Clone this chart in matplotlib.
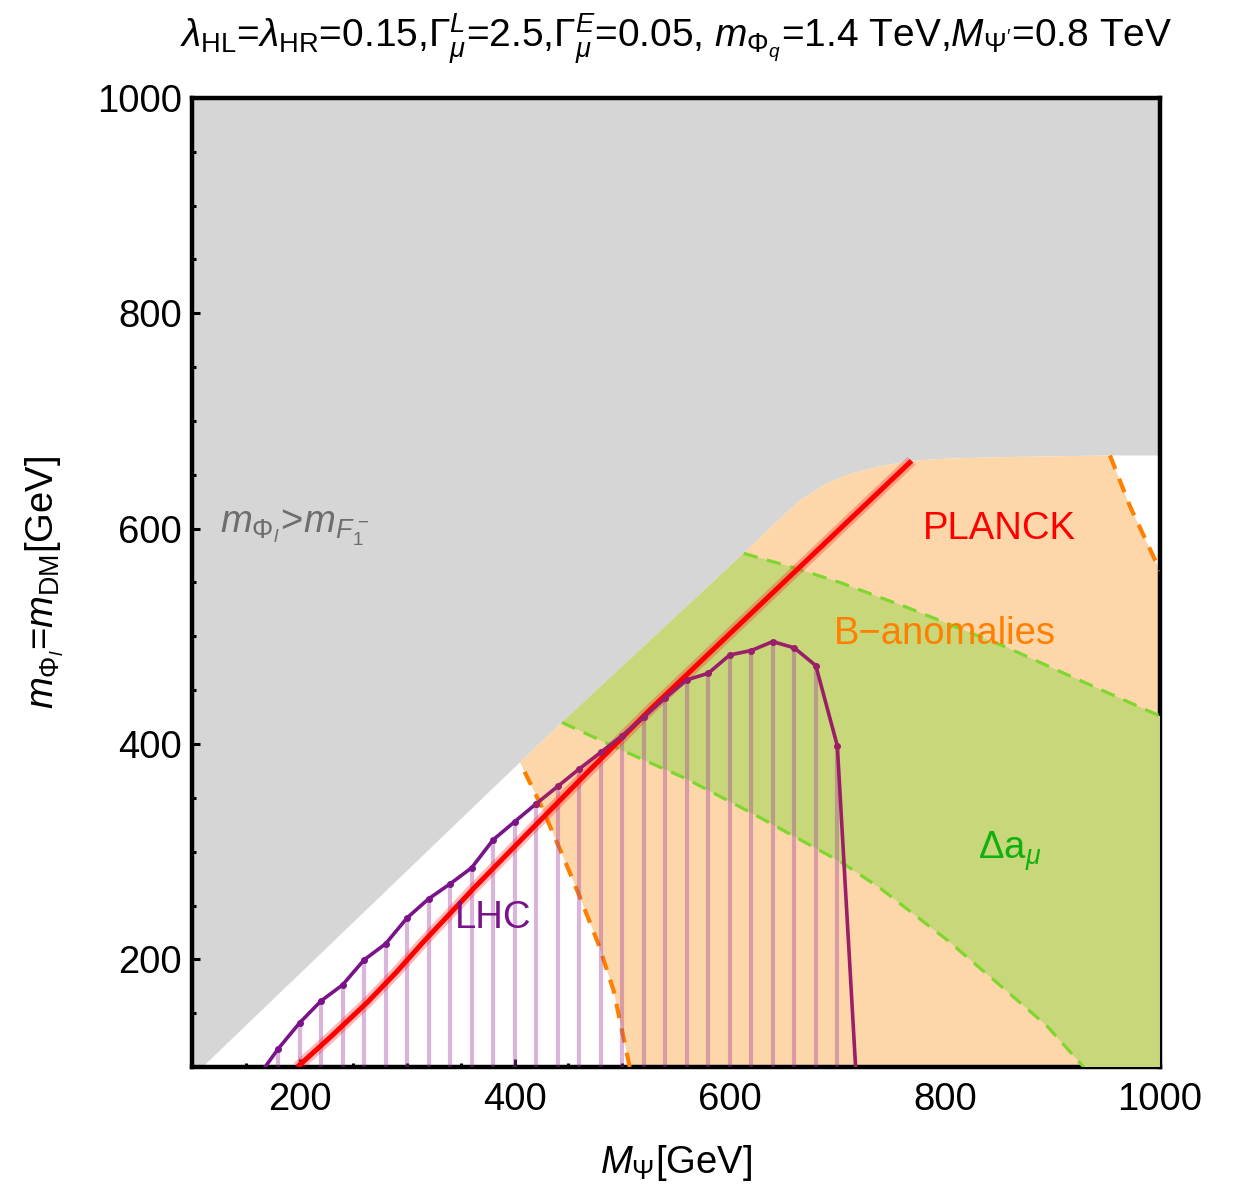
import matplotlib
matplotlib.use("Agg")

import numpy as np
import matplotlib.pyplot as plt
from matplotlib.ticker import MultipleLocator

plt.rcParams["font.family"] = ["Liberation Sans", "DejaVu Sans"]
plt.rcParams["mathtext.fontset"] = "custom"
plt.rcParams["mathtext.rm"] = "Liberation Sans"
plt.rcParams["mathtext.it"] = "Liberation Sans:italic"
plt.rcParams["mathtext.bf"] = "Liberation Sans:bold"

# boundary of the excluded region m_Phi_l > m_F1 (gray above it)
bound_x = [110, 405, 444, 613, 640, 665, 690, 712, 740, 769, 800, 857, 953.5, 1000]
bound_y = [100, 383, 420, 577, 603, 626, 642, 651, 658, 663, 665, 666.5, 668, 668]

# B-anomalies region: orange dashed edges
bleft_x = [507, 492, 478, 461, 444, 424, 405]
bleft_y = [100, 171, 214, 257, 298, 344, 383]
bright_x = [953.5, 972, 1000]
bright_y = [668, 621, 561]

# Delta a_mu band: green dashed edges
amu_low_x = [444, 498, 560, 622, 704, 740, 802, 857, 895, 929]
amu_low_y = [420, 395, 367.5, 335, 290, 266, 218, 171, 138, 100]
amu_up_x = [613, 659, 702.5, 764.5, 857, 919, 1000]
amu_up_y = [577, 564, 550, 527, 490, 462, 426]

# PLANCK relic density line
planck_x = [198, 230, 263, 290, 315, 362, 408, 470, 526, 650, 769]
planck_y = [100, 129, 160, 188, 216, 266, 313, 376, 432, 550, 663]

# LHC exclusion curve
lhc_x = [168, 180, 200, 220, 240, 260, 280, 300, 320, 340, 360, 380, 400, 420,
         440, 460, 480, 500, 520, 540, 560, 580, 600, 620, 640, 660, 680, 700, 717]
lhc_y = [100, 116.7, 140.9, 161.4, 176.2, 199.5, 214.4, 238.5, 256.2, 270.1, 285,
         311, 327.8, 344.5, 360.6, 376.8, 392.2, 407.7, 424.8, 442.8, 459.5, 465.7,
         482.7, 486.8, 495.1, 489.3, 472.8, 398.4, 100]

fig = plt.figure(figsize=(12.36, 11.89), dpi=100)
ax = fig.add_axes([0.1553, 0.1026, 0.7832, 0.815])
ax.set_xlim(100, 1000)
ax.set_ylim(100, 1000)

# gray excluded region
gx = [100] + bound_x + [1000, 100]
gy = [100] + bound_y + [1000, 1000]
ax.fill(gx, gy, color="#d6d6d6", lw=0, zorder=1)

# orange region
ox = bleft_x + bound_x[2:13] + bright_x[1:] + [1000]
oy = bleft_y + bound_y[2:13] + bright_y[1:] + [100]
ax.fill(ox, oy, color="#fdd6aa", lw=0, zorder=2)

# green band
grx = amu_low_x + [1000] + amu_up_x[::-1]
gry = amu_low_y + [100] + amu_up_y[::-1]
ax.fill(grx, gry, color="#c7d77a", lw=0, zorder=3)

ax.plot(amu_low_x, amu_low_y, color="#7fd62e", lw=2.3, ls=(0, (4.5, 3)), zorder=4)
ax.plot(amu_up_x, amu_up_y, color="#7fd62e", lw=2.3, ls=(0, (4.5, 3)), zorder=4)
ax.plot(bleft_x, bleft_y, color="#ff8000", lw=3, ls=(0, (3.5, 2.5)), zorder=4)
ax.plot(bright_x, bright_y, color="#ff8000", lw=3, ls=(0, (3.5, 2.5)), zorder=4)

# LHC hatching
ax.vlines(lhc_x[1:-1], 100, lhc_y[1:-1], color="#a03ca0", alpha=0.38, lw=3, zorder=5)

# PLANCK line
ax.plot(planck_x, planck_y, color="#ff2020", lw=8, alpha=0.3, zorder=6,
        solid_capstyle="butt", solid_joinstyle="round")
ax.plot(planck_x, planck_y, color="#ff0000", lw=3.6, zorder=6,
        solid_capstyle="butt", solid_joinstyle="round")

# LHC curve
k = lhc_x.index(420)
ax.plot(lhc_x[:k + 1], lhc_y[:k + 1], color="#7a128a", lw=2.6, zorder=7,
        marker="o", ms=4, markevery=list(range(1, k + 1)))
ax.plot(lhc_x[k:], lhc_y[k:], color="#9a1f68", lw=2.6, zorder=7,
        marker="o", ms=4, markevery=list(range(0, len(lhc_x) - k - 1)))

# labels inside
fs = 27.5
ax.text(126, 601, r"$m_{\Phi_l}\!>\!m_{F_1^-}$", color="#6e6e6e", fontsize=fs,
        ha="left", va="center", zorder=8)
ax.text(851, 600, "PLANCK", color="#ff0000", fontsize=fs, ha="center",
        va="center", zorder=8)
ax.text(800, 502, "B\u2212anomalies", color="#ff8000", fontsize=fs, ha="center",
        va="center", zorder=8)
ax.text(860, 300, r"$\Delta\mathrm{a}_\mu$", color="#10b010", fontsize=fs,
        ha="center", va="center", zorder=8)
ax.text(380, 238, "LHC", color="#7a128a", fontsize=fs, ha="center",
        va="center", zorder=8)

# axes styling
ax.set_xticks([200, 400, 600, 800, 1000])
ax.set_yticks([200, 400, 600, 800, 1000])
ax.xaxis.set_minor_locator(MultipleLocator(50))
ax.yaxis.set_minor_locator(MultipleLocator(50))
ax.tick_params(which="both", direction="in", top=False, right=False,
               labelsize=fs, width=2.2)
ax.tick_params(axis="x", which="major", length=6, pad=11)
ax.tick_params(axis="y", which="major", length=6, pad=7)
ax.tick_params(which="minor", length=3)
for s in ax.spines.values():
    s.set_linewidth(3.2)

fig.text(0.547, 0.967,
         r"$\lambda_{\rm HL}$=$\lambda_{\rm HR}$=0.15,$\Gamma^{L}_{\mu}$=2.5,"
         r"$\Gamma^{E}_{\mu}$=0.05, $m_{\Phi_q}$=1.4 TeV,$M_{\Psi'}$=0.8 TeV",
         fontsize=28, ha="center", va="center")
fig.text(0.547, 0.022, r"$M_\Psi$[GeV]", fontsize=fs, ha="center", va="center")
fig.text(0.0364, 0.5105, r"$m_{\Phi_l}$=$m_{\rm DM}$[GeV]", fontsize=fs,
         ha="center", va="center", rotation=90)

fig.savefig("out.png", dpi=100)
